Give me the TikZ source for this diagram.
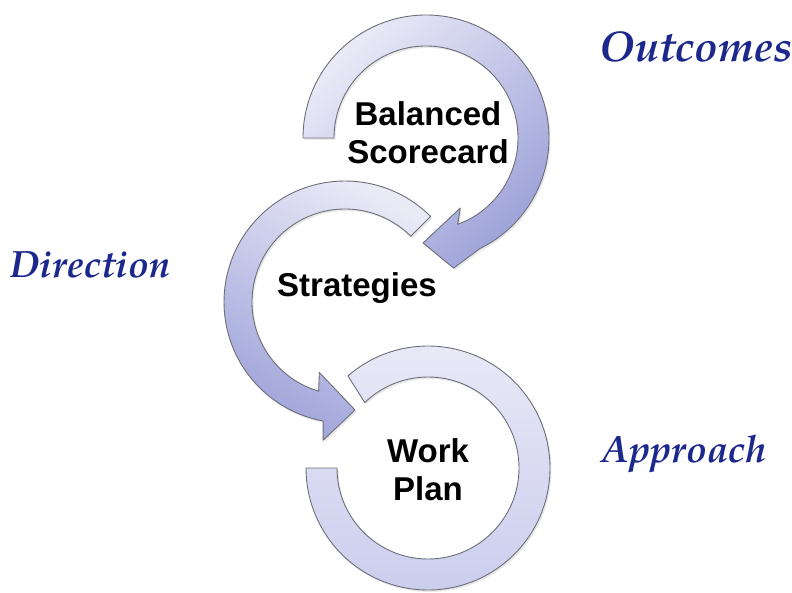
\documentclass[tikz,border=0pt]{standalone}
\usepackage{fontspec}
\setsansfont{Liberation Sans}
\newfontfamily\labelfont{TeX Gyre Pagella}
\usetikzlibrary{calc,shadows}
\definecolor{arcLight}{RGB}{234,234,247}
\definecolor{arcMid}{RGB}{202,204,237}
\definecolor{arcDark}{RGB}{158,163,217}
\definecolor{arcLine}{RGB}{110,110,122}
\definecolor{labelBlue}{RGB}{28,40,140}
\begin{document}
\begin{tikzpicture}[x=1pt,y=-1pt,
  arcshape/.style={draw=arcLine, line width=0.9pt, line join=round,
    drop shadow={opacity=0.18, shadow xshift=1.5pt, shadow yshift=-2pt}},
  stepname/.style={font=\sffamily\bfseries\fontsize{33}{38}\selectfont, align=center, text=black, inner sep=0pt},
  sidelabel/.style={font=\labelfont\bfseries\itshape\fontsize{38}{44}\selectfont, text=labelBlue, inner sep=0pt, anchor=base}]
\useasboundingbox (0,0) rectangle (792,593);
\fill[white] (0,0) rectangle (792,593);
\coordinate (T) at (426,138);
\coordinate (M) at (345,302);
\coordinate (W) at (428,468);
% bottom arc (Work Plan)
\shadedraw[arcshape, top color=arcLight, bottom color=arcMid]
  ($(W)+(-131:122)$) arc[start angle=-131, end angle=180, radius=122]
  -- ($(W)+(180:91)$) arc[start angle=180, end angle=-134, radius=91] -- cycle;
% middle arc (Strategies)
\shadedraw[arcshape, top color=arcLight, bottom color=arcDark, shading angle=-30]
  ($(M)+(-45:121)$) arc[start angle=-45, end angle=-259.6, radius=121]
  -- ($(M)+(99:140)$) -- ($(M)+(84.7:108.5)$) -- ($(M)+(110:75)$) -- ($(M)+(106.5:93)$)
  arc[start angle=-253.5, end angle=-45, radius=93] -- cycle;
% top arc (Balanced Scorecard)
\shadedraw[arcshape, top color=arcLight, bottom color=arcDark, shading angle=45]
  ($(T)+(180:123)$) arc[start angle=180, end angle=424, radius=123]
  -- ($(T)+(78:133)$) -- ($(T)+(91.6:105)$) -- ($(T)+(64:78)$) -- ($(T)+(69.8:92)$)
  arc[start angle=69.8, end angle=-180, radius=92] -- cycle;
% texts
\node[stepname] (bsc) at (428,132.5) {Balanced\\Scorecard};
\node[stepname, anchor=base] (str) at (357,297) {Strategies};
\node[stepname] (wp) at (428,470) {Work\\Plan};
\node[sidelabel, font=\labelfont\bfseries\itshape\fontsize{43}{48}\selectfont] (out) at (696,62) {Outcomes};
\node[sidelabel] (dir) at (90.5,278) {Direction};
\node[sidelabel] (app) at (684,462) {Approach};
\end{tikzpicture}
\end{document}
